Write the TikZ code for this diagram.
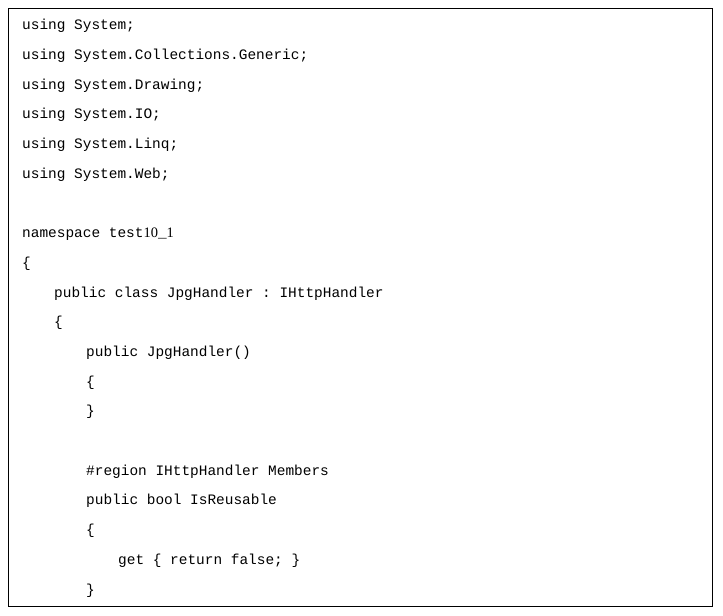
\documentclass[tikz,border=0pt]{standalone}
\usepackage{fontspec}
\setmonofont{Liberation Mono}
\newfontfamily\digitfont{Liberation Serif}
\tikzset{codeline/.style={anchor=west,inner sep=0pt,font=\ttfamily\fontsize{14.5}{16}\selectfont}}
\tikzset{frame/.style={draw,line width=0.8bp}}

\begin{document}
\begin{tikzpicture}[x=1bp,y=-1bp]
    \useasboundingbox (0,0) rectangle (723,616);
    \draw[frame] (8,8) rectangle (712,606);
    % listing, one line per node
    \foreach \txt/\ind [count=\i] in {
        using System;/0,
        using System.Collections.Generic;/0,
        using System.Drawing;/0,
        using System.IO;/0,
        using System.Linq;/0,
        using System.Web;/0,
        /0,
        namespace test{\digitfont 10}\_{\digitfont 1}/0,
        \{/0,
        public class JpgHandler : IHttpHandler/1,
        \{/1,
        public JpgHandler()/2,
        \{/2,
        \}/2,
        /2,
        \#region IHttpHandler Members/2,
        public bool IsReusable/2,
        \{/2,
        get \{ return false; \}/3,
        \}/2}
        \node[codeline] (l\i) at (22+32*\ind, 26+29.7*\i-29.7) {\txt};
\end{tikzpicture}
\end{document}
